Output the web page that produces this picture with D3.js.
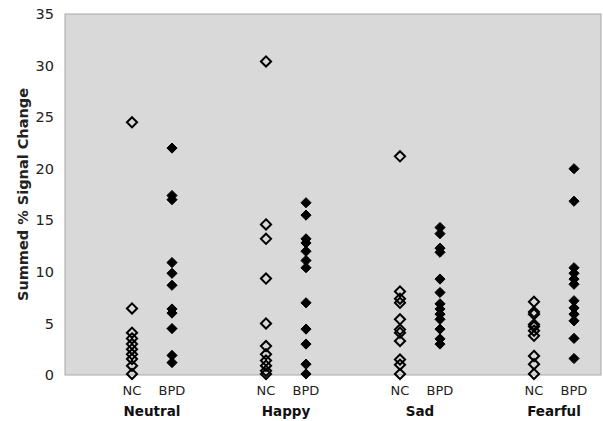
<!DOCTYPE html>
<html><head><meta charset="utf-8">
<script src="https://cdn.jsdelivr.net/npm/d3@7"></script>
<style>body{margin:0;background:#fff;} svg{display:block;}</style>
</head><body>
<svg id="c" width="603" height="421"></svg>
<script>
const categories = ["Neutral", "Happy", "Sad", "Fearful"];
const groups = ["NC", "BPD"];
const yTicks = [0, 5, 10, 15, 20, 25, 30, 35];

const neutralNC  = [24.5, 6.45, 4.1, 3.55, 3.0, 2.5, 2.0, 1.55, 0.9, 0.1];
const neutralBPD = [22.0, 17.4, 17.0, 10.9, 9.86, 8.7, 6.4, 6.0, 4.5, 1.9, 1.2];
const happyNC    = [30.4, 14.6, 13.2, 9.35, 5.0, 2.8, 2.0, 1.4, 0.9, 0.4, 0.1];
const happyBPD   = [16.7, 15.5, 13.2, 12.8, 12.0, 11.1, 10.4, 7.0, 4.45, 3.0, 1.05, 0.1];
const sadNC      = [21.2, 8.1, 7.4, 7.0, 5.4, 4.4, 4.1, 3.3, 1.5, 1.0, 0.1];
const sadBPD     = [14.3, 13.7, 12.3, 11.9, 9.3, 8.0, 6.9, 6.4, 5.9, 5.4, 4.45, 3.5, 3.0];
const fearfulNC  = [7.1, 6.1, 5.9, 4.9, 4.7, 4.3, 3.8, 1.85, 1.05, 0.1];
const fearfulBPD = [20.0, 16.85, 10.4, 9.86, 9.3, 8.8, 7.2, 6.5, 5.9, 5.25, 3.55, 1.6];

const seriesData = [
  [neutralNC, neutralBPD],
  [happyNC, happyBPD],
  [sadNC, sadBPD],
  [fearfulNC, fearfulBPD]
];

(function () {
const svg = d3.select("#c");
const pLeft = 65, pRight = 601, pTop = 14, pBottom = 375;

const y = d3.scaleLinear().domain([0, 35]).range([pBottom, pTop]);
const xCat = d3.scaleBand().domain(categories).range([66, 602]);
const xGrp = d3.scalePoint().domain(groups).range([0, 40]);
const catOffset = 66;

function xPos(cat, grp) { return xCat(cat) + catOffset + xGrp(grp); }

svg.append("rect").attr("x", pLeft).attr("y", pTop)
  .attr("width", pRight - pLeft).attr("height", pBottom - pTop)
  .attr("fill", "#d9d9d9").attr("stroke", "#a8a8a8").attr("stroke-width", 1);

const yAxis = d3.axisLeft(y).tickValues(yTicks).tickSize(0).tickPadding(11);
const gy = svg.append("g").attr("transform", `translate(${pLeft},0)`).call(yAxis);
gy.select(".domain").remove();
gy.selectAll("text").attr("font-family", "DejaVu Sans, Verdana, sans-serif")
  .attr("font-size", 14.5).attr("fill", "#222");

svg.append("text")
  .attr("transform", `translate(28,${(pTop + pBottom) / 2}) rotate(-90)`)
  .attr("text-anchor", "middle")
  .attr("font-family", "DejaVu Sans, Verdana, sans-serif")
  .attr("font-weight", "bold").attr("font-size", 14.5).attr("fill", "#222")
  .text("Summed % Signal Change");

const diamond = d3.symbol().type(d3.symbolDiamond2).size(66);

categories.forEach((cat, ci) => {
  groups.forEach((grp, gi) => {
    const vals = seriesData[ci][gi];
    const cx = xPos(cat, grp);
    svg.append("g").selectAll("path").data(vals).join("path")
      .attr("d", diamond)
      .attr("transform", d => `translate(${cx},${y(d)})`)
      .attr("fill", gi === 0 ? "none" : "#000")
      .attr("stroke", "#000")
      .attr("stroke-width", gi === 0 ? 2 : 1);
    svg.append("text").attr("x", cx).attr("y", 395)
      .attr("text-anchor", "middle")
      .attr("font-family", "DejaVu Sans, Verdana, sans-serif")
      .attr("font-size", 13).attr("fill", "#222").text(grp);
  });
  svg.append("text").attr("x", xPos(cat, "NC") + 20).attr("y", 416)
    .attr("text-anchor", "middle")
    .attr("font-family", "DejaVu Sans, Verdana, sans-serif")
    .attr("font-weight", "bold").attr("font-size", 13.5).attr("fill", "#111").text(cat);
});
})();
</script>
</body></html>
